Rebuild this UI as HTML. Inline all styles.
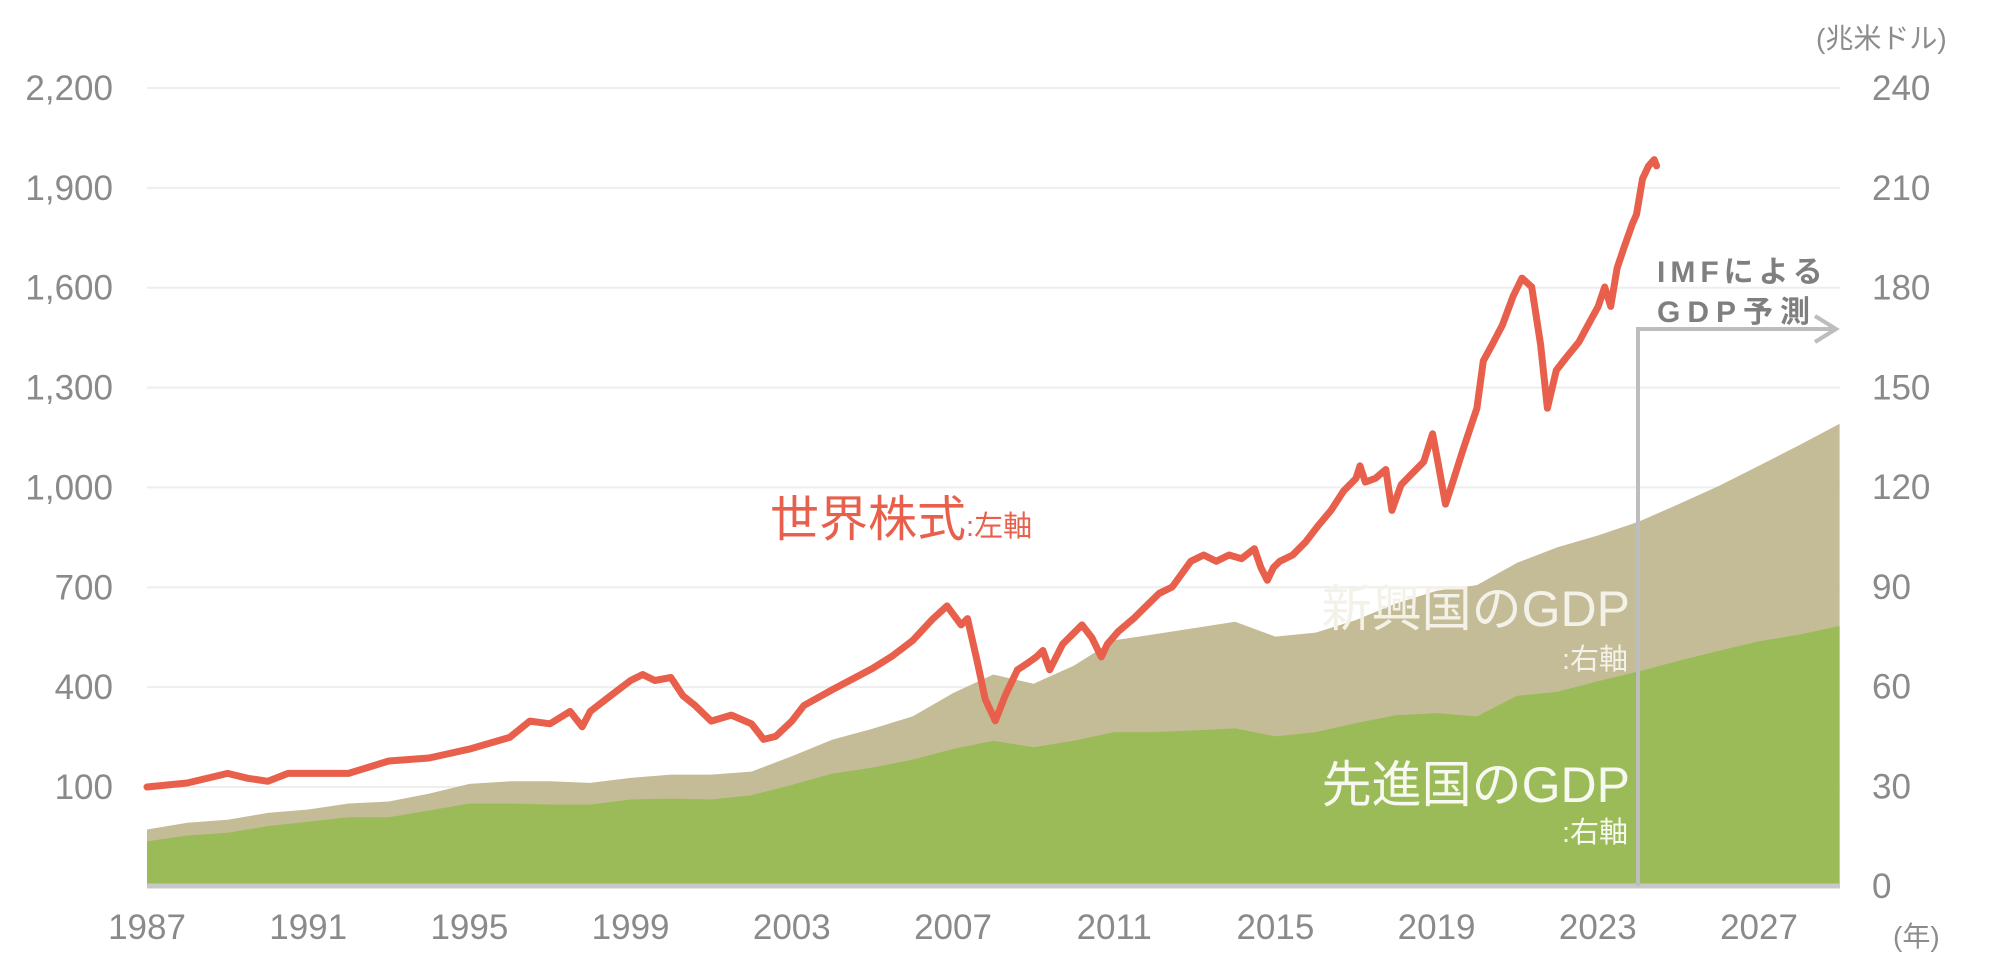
<!DOCTYPE html>
<html><head><meta charset="utf-8"><style>
html,body{margin:0;padding:0;background:#fff;width:2000px;height:969px;overflow:hidden}
svg text{font-family:"Liberation Sans","Noto Sans CJK JP",sans-serif}
</style></head><body>
<svg id="chart" width="2000" height="969" viewBox="0 0 2000 969" xmlns="http://www.w3.org/2000/svg">
<g id="grid"></g>
<g id="areas"></g>
<g id="line"></g>
<g id="axes"></g>
<line x1="147" y1="886" x2="1840" y2="886" stroke="#c8c8c8" stroke-width="5"/>
<polyline points="1638,886 1638,329 1832,329" fill="none" stroke="#bdbdbd" stroke-width="4"/>
<polyline points="1815,316 1836,329 1815,342" fill="none" stroke="#bdbdbd" stroke-width="4"/>
<text x="1657" y="282" font-size="30" font-weight="bold" fill="#7f7f7f" letter-spacing="5">IMFによる</text>
<text x="1657" y="322" font-size="30" font-weight="bold" fill="#7f7f7f" letter-spacing="7">GDP予測</text>
<text x="770" y="536" fill="#e8604c"><tspan font-size="49">世界株式</tspan><tspan font-size="29">:左軸</tspan></text>
<text x="1630" y="626" font-size="50" fill="#f4f2e8" text-anchor="end">新興国のGDP</text>
<text x="1628" y="669" font-size="29" fill="#f4f2e8" text-anchor="end">:右軸</text>
<text x="1630" y="802" font-size="50" fill="#f7f9f0" text-anchor="end">先進国のGDP</text>
<text x="1628" y="842" font-size="29" fill="#f7f9f0" text-anchor="end">:右軸</text>
<text x="1816" y="48" font-size="28" fill="#8c8c8c">(兆米ドル)</text>
<text x="1893" y="946" font-size="28" fill="#8c8c8c">(年)</text>
</svg>
<script>
const gdpYears=[1987,1988,1989,1990,1991,1992,1993,1994,1995,1996,1997,1998,1999,2000,2001,2002,2003,2004,2005,2006,2007,2008,2009,2010,2011,2012,2013,2014,2015,2016,2017,2018,2019,2020,2021,2022,2023,2024,2025,2026,2027,2028,2029];
const advancedGdp=[13.4,15.2,16,18,19.3,20.7,20.7,22.7,24.8,24.8,24.5,24.5,26,26.3,26,27.3,30.4,33.8,35.6,38,41.2,43.7,41.7,43.7,46.3,46.3,46.8,47.4,45,46.3,49,51.4,52,51,57.2,58.4,61.6,64.5,67.7,70.7,73.6,75.6,78.2];
const totalGdp=[17,19,19.9,22,23,24.8,25.4,27.8,30.7,31.5,31.5,31,32.5,33.5,33.5,34.4,39,44,47.3,51,58,63.6,60.8,66.3,73.9,75.7,77.6,79.5,75,76.2,80,85,88.8,90.5,97.2,101.9,105.4,109.5,114.8,120.3,126.4,132.6,139];
const stockYears=[1987,1988,1989,1989.5,1990,1990.5,1991,1992,1993,1994,1995,1996,1996.5,1997,1997.5,1997.8,1998,1998.5,1999,1999.3,1999.6,2000,2000.3,2000.6,2001,2001.5,2002,2002.3,2002.6,2003,2003.3,2004,2005,2005.5,2006,2006.5,2006.85,2007.2,2007.36,2007.61,2007.8,2008.05,2008.3,2008.6,2008.85,2009.07,2009.23,2009.4,2009.72,2010.2,2010.45,2010.68,2010.83,2011.1,2011.48,2011.8,2012.12,2012.44,2012.9,2013.22,2013.53,2013.85,2014.16,2014.48,2014.64,2014.8,2014.95,2015.11,2015.43,2015.75,2016.06,2016.38,2016.69,2017.0,2017.1,2017.23,2017.48,2017.74,2017.89,2018.12,2018.37,2018.68,2018.9,2019.05,2019.22,2019.38,2019.63,2019.86,2020.0,2020.16,2020.38,2020.63,2020.9,2021.12,2021.36,2021.58,2021.75,2021.97,2022.22,2022.53,2022.7,2023.01,2023.17,2023.32,2023.48,2023.64,2023.86,2023.96,2024.11,2024.26,2024.4,2024.46];
const stockValues=[100,112,141,126,117,141,141,141,178,187,214,249,298,290,327,281,327,374,420,438,420,429,374,345,298,316,290,243,252,298,345,392,456,494,540,605,644,587,606,472,364,299,376,452,472,491,510,452,529,587,548,491,529,567,606,644,682,701,778,797,778,797,786,816,759,721,759,778,797,836,885,931,989,1027,1065,1016,1027,1054,931,1008,1039,1077,1161,1065,950,1008,1104,1188,1238,1380,1429,1487,1575,1629,1602,1429,1238,1352,1391,1437,1475,1544,1602,1544,1659,1717,1793,1820,1927,1966,1985,1966];
const leftTicks=[100,400,700,1000,1300,1600,1900,2200];
const leftTickLabels=["100","400","700","1,000","1,300","1,600","1,900","2,200"];
const rightTicks=[0,30,60,90,120,150,180,210,240];
const xTicks=[1987,1991,1995,1999,2003,2007,2011,2015,2019,2023,2027];

const NS="http://www.w3.org/2000/svg";
const xS=y=>147+(y-1987)*40.3;
const yL=v=>787-(v-100)*(699/2100);
const yR=v=>886-v*(798/240);
function mk(tag,attrs,parent){const e=document.createElementNS(NS,tag);for(const k in attrs)e.setAttribute(k,attrs[k]);parent.appendChild(e);return e;}

const grid=document.getElementById('grid');
leftTicks.forEach(v=>{
  const l=mk('line',{x1:147,x2:1840,y1:yL(v),y2:yL(v),stroke:'#eeeeee','stroke-width':2},grid);
  
  
});
const areas=document.getElementById('areas');
function areaPath(vals){
  let d='M'+xS(gdpYears[0])+','+yR(0);
  vals.forEach((v,i)=>{d+=' L'+xS(gdpYears[i]).toFixed(1)+','+yR(v).toFixed(1);});
  d+=' L'+xS(gdpYears[gdpYears.length-1])+','+yR(0)+' Z';return d;
}
const t=mk('path',{d:areaPath(totalGdp),fill:'#c4bc96'},areas);


const g=mk('path',{d:areaPath(advancedGdp),fill:'#9bbb59'},areas);



const lg=document.getElementById('line');
const pts=stockValues.map((v,i)=>xS(stockYears[i]).toFixed(1)+','+yL(v).toFixed(1)).join(' ');
const pl=mk('polyline',{points:pts,fill:'none',stroke:'#e8604c','stroke-width':7,'stroke-linejoin':'round','stroke-linecap':'round'},lg);



const ax=document.getElementById('axes');
leftTicks.forEach((v,i)=>{
  const tx=mk('text',{x:113,y:yL(v)+12,'font-size':35,fill:'#8a8a8a','text-anchor':'end'},ax);
  tx.textContent=leftTickLabels[i];
  
  
});
rightTicks.forEach(v=>{
  const tx=mk('text',{x:1872,y:yR(v)+12,'font-size':35,fill:'#8a8a8a'},ax);
  tx.textContent=String(v);
  
  
});
xTicks.forEach(y=>{
  const tx=mk('text',{x:xS(y),y:939,'font-size':35,fill:'#8a8a8a','text-anchor':'middle'},ax);
  tx.textContent=String(y);
  
  
});
</script>
</body></html>
